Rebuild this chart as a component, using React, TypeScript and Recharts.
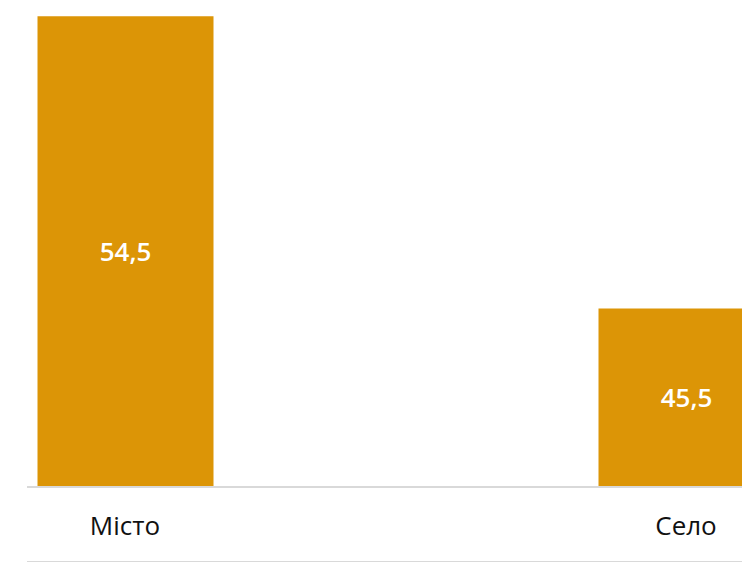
import React from 'react';
import { BarChart, Bar, XAxis, YAxis, LabelList } from 'recharts';

const categories = ['Місто', 'Село'];
const shares = [54.5, 45.5];

const data = categories.map((name, i) => ({ name, value: shares[i] }));

const fmt = (v: any) => String(v).replace('.', ',');

export default function App() {
  return (
    <div style={{ position: 'absolute', left: 0, top: 0, width: 742, height: 563, overflow: 'hidden', background: '#fff' }}>
      <BarChart
        width={742}
        height={563}
        data={data}
        margin={{ top: 0, right: 0, left: 27, bottom: 0 }}
      >
        <XAxis
          dataKey="name"
          height={76}
          padding={{ left: -182.5, right: -224.5 }}
          axisLine={{ stroke: '#d9d9d9', strokeWidth: 2 }}
          tickLine={false}
          tick={{ fill: '#111', fontSize: 26, fontFamily: 'Open Sans' }}
          tickMargin={24}
        />
        <YAxis hide domain={[40, 55]} allowDataOverflow />
        <Bar dataKey="value" fill="#dc9506" barSize={176} isAnimationActive={false}>
          <LabelList
            dataKey="value"
            position="center"
            formatter={fmt}
            fill="#fff"
            fontSize={26}
            fontWeight={600}
            fontFamily="Open Sans"
          />
        </Bar>
      </BarChart>
      <div style={{ position: 'absolute', left: 27, top: 561, width: 715, height: 1, background: '#d9d9d9' }} />
    </div>
  );
}
